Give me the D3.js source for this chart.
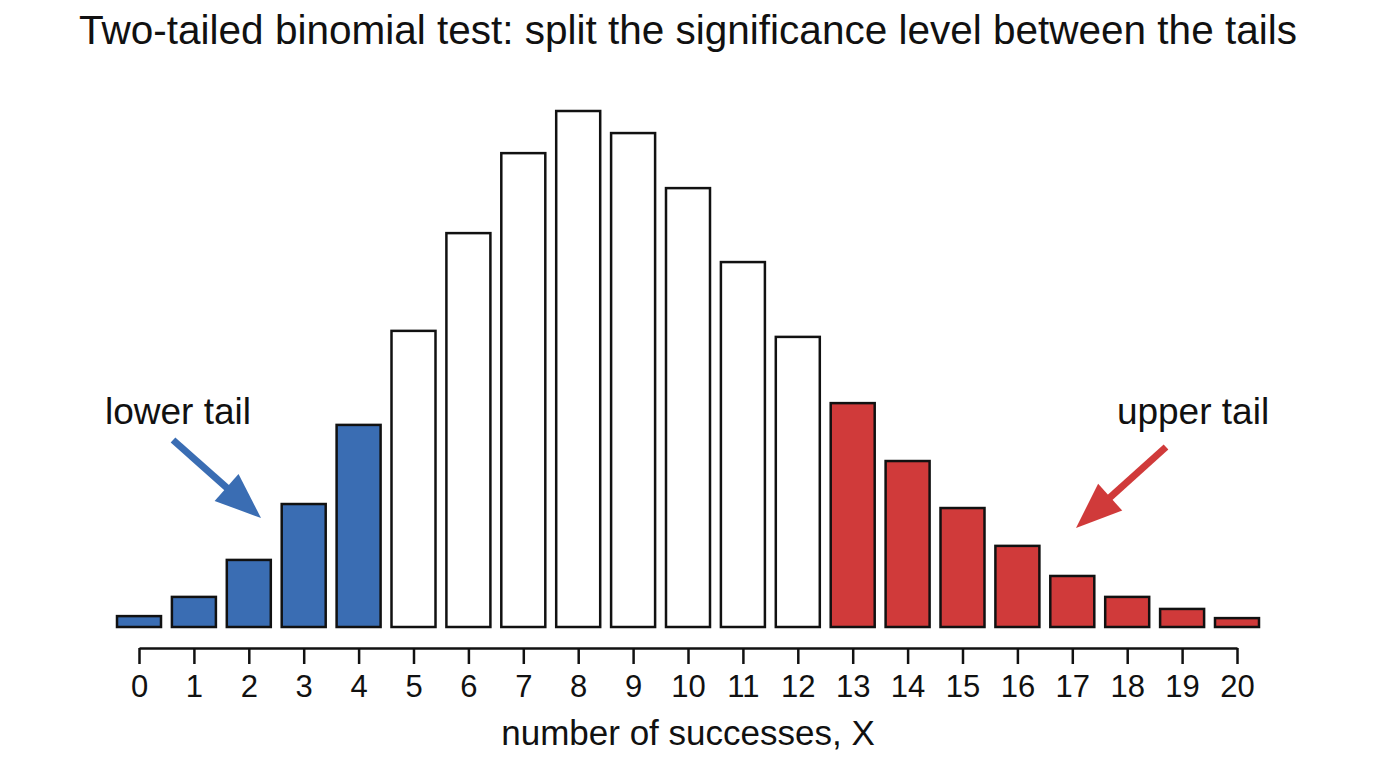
<!DOCTYPE html>
<html><head><meta charset="utf-8">
<script src="https://cdn.jsdelivr.net/npm/d3@7"></script>
<style>body{margin:0;background:#fff}text{font-family:"Liberation Sans",Arial,sans-serif}</style>
</head><body>
<svg id="c" width="1376" height="768"></svg>
<script>
const categories = d3.range(0, 21);
const probs = [0.0038,0.0105,0.0234,0.0429,0.0705,0.1033,0.1374,0.1653,0.18,0.1723,0.1531,0.1273,0.1012,0.0781,0.0579,0.0415,0.0283,0.0178,0.0105,0.0063,0.0031];
const tails = ["lower","lower","lower","lower","lower","mid","mid","mid","mid","mid","mid","mid","mid","upper","upper","upper","upper","upper","upper","upper","upper"];
const tickLabels = categories.map(String);
const colors = {lower:"#3a6db3", mid:"#ffffff", upper:"#d03a3a"};

const svg = d3.select("#c");
const x = d3.scaleLinear().domain([0,20]).range([139,1237]);
const y = d3.scaleLinear().domain([0,0.18]).range([627,111]);
const bw = 44;

svg.append("text").attr("x",688).attr("y",44).attr("text-anchor","middle")
  .style("font-size","40.5px").attr("fill","#111").text("Two-tailed binomial test: split the significance level between the tails");

svg.append("g").selectAll("rect").data(categories).join("rect")
  .attr("x",d=>x(d)-bw/2).attr("width",bw)
  .attr("y",d=>y(probs[d])).attr("height",d=>y(0)-y(probs[d]))
  .attr("fill",d=>colors[tails[d]]).attr("stroke","#111").attr("stroke-width",2.5);

const ax = svg.append("g").attr("transform","translate(0,648)")
  .call(d3.axisBottom(x).tickValues(categories).tickFormat((d,i)=>tickLabels[i]).tickSize(16).tickSizeOuter(0).tickPadding(11));
ax.select(".domain").attr("stroke","#111").attr("stroke-width",2.5);
ax.selectAll(".tick line").attr("stroke","#111").attr("stroke-width",2.5);
ax.selectAll(".tick text").style("font-size","31px").attr("fill","#111").style("font-family","'Liberation Sans',Arial,sans-serif");

svg.append("text").attr("x",688).attr("y",745).attr("text-anchor","middle")
  .style("font-size","35px").attr("fill","#111").text("number of successes, X");

svg.append("text").attr("x",178).attr("y",424).attr("text-anchor","middle")
  .style("font-size","37px").attr("fill","#111").text("lower tail");
svg.append("text").attr("x",1193).attr("y",424).attr("text-anchor","middle")
  .style("font-size","37px").attr("fill","#111").text("upper tail");

function arrow(x1,y1,x2,y2,color){
  const ang = Math.atan2(y2-y1,x2-x1);
  const hl = 46, hw = 18;
  const bx = x2 - hl*Math.cos(ang), by = y2 - hl*Math.sin(ang);
  svg.append("line").attr("x1",x1).attr("y1",y1).attr("x2",bx+8*Math.cos(ang)).attr("y2",by+8*Math.sin(ang))
    .attr("stroke",color).attr("stroke-width",7);
  const px = -Math.sin(ang), py = Math.cos(ang);
  svg.append("path").attr("d",`M${x2},${y2}L${bx+hw*px},${by+hw*py}L${bx-hw*px},${by-hw*py}Z`).attr("fill",color);
}
arrow(173,440,261,518,"#3a6db3");
arrow(1166,447,1076,528,"#d03a3a");
</script>
</body></html>
